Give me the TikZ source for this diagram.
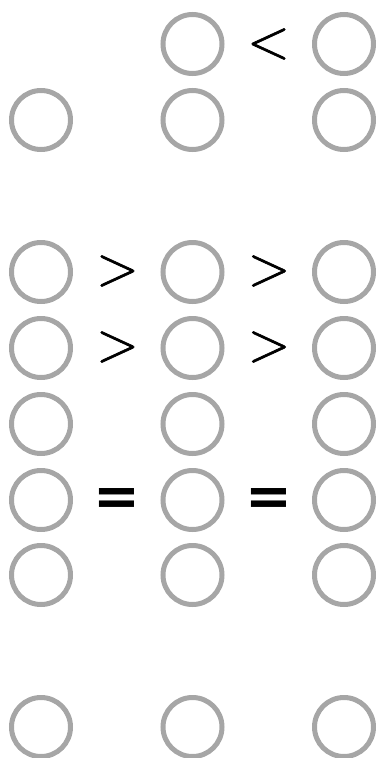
\documentclass[tikz,border=0pt]{standalone}
\usepackage{fontspec}
\newfontfamily\eqfont{DejaVu Sans Bold}
\newfontfamily\relfont[FakeBold=1.2]{Latin Modern Roman}
\begin{document}
\begin{tikzpicture}[x=1pt,y=-1pt,
  dot/.style={circle,draw=gray!70,line width=5pt,minimum size=59pt,inner sep=0pt},
  rel/.style={inner sep=0pt,font=\relfont\fontsize{56}{56}\selectfont},
  eqrel/.style={inner sep=0pt,font=\eqfont\fontsize{56}{56}\selectfont}]
\useasboundingbox (0,0) rectangle (377,758);
\foreach \r/\yy in {0/44,1/120,3/272,4/348,5/424,6/500,7/575,9/727}{
  \foreach \c/\xx in {0/41,1/192.5,2/344}{
    \ifnum\r=0 \ifnum\c=0 \else
      \node[dot] (c\r\c) at (\xx,\yy) {};
    \fi\else
      \node[dot] (c\r\c) at (\xx,\yy) {};
    \fi
  }
}
\node[rel] (l01) at (268.5,44) {<};
\node[rel] (g30) at (117.5,271) {>};
\node[rel] (g31) at (269,271) {>};
\node[rel] (g40) at (117.5,347) {>};
\node[rel] (g41) at (269,347) {>};
\node[eqrel] (e60) at (117,501.5) {=};
\node[eqrel] (e61) at (268.5,501.5) {=};
\end{tikzpicture}
\end{document}
